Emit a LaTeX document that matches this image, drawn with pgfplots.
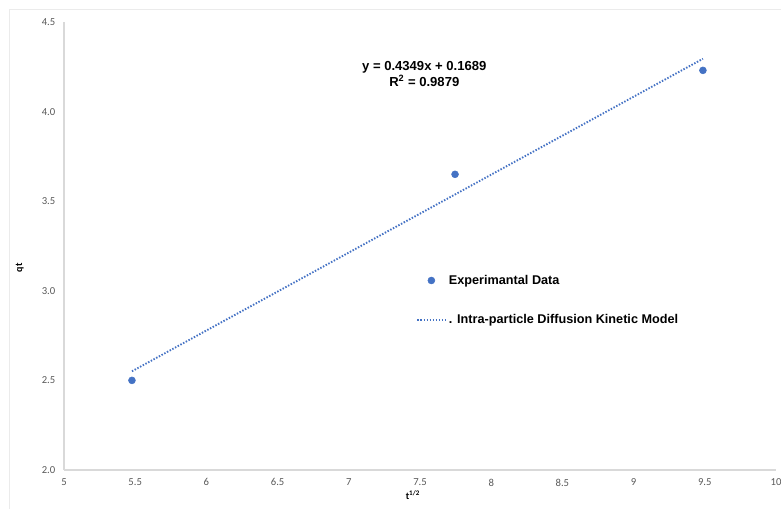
\documentclass[border=0pt]{standalone}
\usepackage{pgfplots}
\pgfplotsset{compat=1.18}
\usepackage{fontspec}
\setmainfont{Liberation Sans}
\newfontfamily\calib{Carlito}
\definecolor{xlblue}{HTML}{4472C4}
\definecolor{axgray}{HTML}{D9D9D9}
\definecolor{tkgray}{HTML}{595959}
\begin{document}
\begin{tikzpicture}
\useasboundingbox (0,0) rectangle (585.75pt,381pt);
\draw[black!8, line width=0.75pt] (6.75pt,-10pt) -- (6.75pt,373.5pt) -- (600pt,373.5pt);
\begin{axis}[
  at={(48pt,28.5pt)}, anchor=south west,
  scale only axis, width=534pt, height=336pt,
  xmin=5, xmax=10, ymin=2, ymax=4.5,
  axis x line*=bottom, axis y line*=left,
  axis line style={axgray, line width=1.1pt},
  xtick={5,5.5,6,6.5,7,7.5,8,8.5,9,9.5,10},
  ytick={2,2.5,3,3.5,4,4.5},
  yticklabel style={/pgf/number format/fixed, /pgf/number format/fixed zerofill, /pgf/number format/precision=1},
  /pgf/number format/assume math mode=true,
  major tick length=0pt,
  tick label style={font=\calib\fontsize{8}{9}\selectfont, text=tkgray},
  xticklabel style={yshift=-3pt},
  yticklabel style={xshift=-3pt},
  xlabel={\calib\bfseries t\textsuperscript{1/2}},
  xlabel style={font=\fontsize{7.5}{9}\selectfont, at={(axis description cs:0.49,-0.035)}, anchor=north},
  ylabel={\calib\bfseries qt},
  ylabel style={font=\fontsize{7.5}{9}\selectfont, at={(axis description cs:-0.062,0.451)}, anchor=center},
  legend cell align=left,
  legend image code/.code={\draw[mark repeat=2,mark phase=2,#1] plot coordinates {(0pt,0pt) (10.5pt,0pt) (21pt,0pt)};},
  legend style={draw=none, fill=none, at={(axis description cs:0.489,0.448)}, anchor=north west,
    font=\bfseries\fontsize{9.5}{11}\selectfont, row sep=17.5pt},
]
\addplot[only marks, mark=*, mark size=2.6pt, xlblue] coordinates {
  (5.4772,2.50) (7.7460,3.65) (9.4868,4.23)
};
\addlegendentry{Experimantal Data}
\addplot[xlblue, line width=1.4pt, dash pattern=on 1.1pt off 1.2pt] coordinates {
  (5.4772,2.5510) (9.4868,4.2947)
};
\addlegendentry{. Intra-particle Diffusion Kinetic Model}
\node[align=center, font=\bfseries\fontsize{9.8}{11.5}\selectfont, inner sep=0pt] at (axis cs:7.53,4.21)
  {y = 0.4349x + 0.1689\\R\textsuperscript{2} = 0.9879};
\end{axis}
\end{tikzpicture}
\end{document}
